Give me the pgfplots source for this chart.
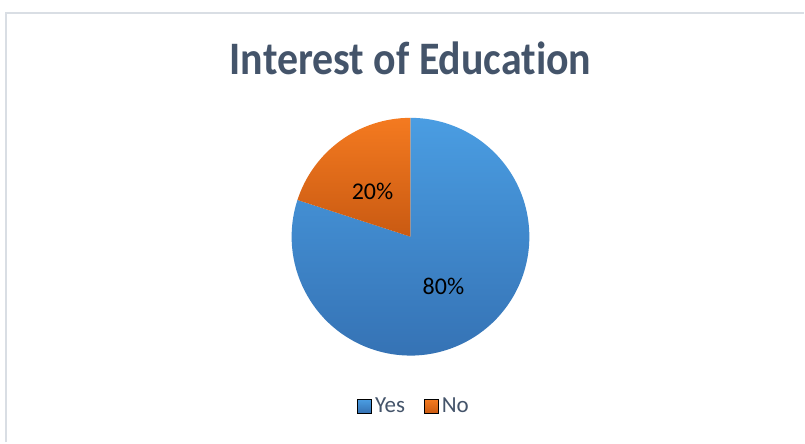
\documentclass[border=0pt]{standalone}
\usepackage{pgfplots}
\pgfplotsset{compat=1.18}
\usepackage{pgfplotstable}
\usepackage{fontspec}
\setmainfont{Carlito}[Ligatures=NoCommon]

\definecolor{titlegray}{HTML}{44546A}
\definecolor{framegray}{HTML}{D9DEE4}
\definecolor{bluetop}{HTML}{4A9DE2}
\definecolor{bluebot}{HTML}{3470B2}
\definecolor{orangetop}{HTML}{F47A20}
\definecolor{orangebot}{HTML}{C95A12}

% share of answers, in percent
\pgfplotstableread{
label value
Yes   80
No    20
}\piedata
\pgfplotstablegetelem{0}{value}\of\piedata \let\yesval\pgfplotsretval
\pgfplotstablegetelem{1}{value}\of\piedata \let\noval\pgfplotsretval
% "No" runs counter-clockwise from 12 o'clock, "Yes" takes the rest
\pgfmathsetmacro\noend{90+3.6*\noval}
\pgfmathsetmacro\yesend{\noend+3.6*\yesval}

\begin{document}
\begin{tikzpicture}
\begin{axis}[
    scale only axis,
    width=402.5pt, height=221.5pt,
    xmin=0, xmax=805, ymin=0, ymax=443,
    axis lines=none,
    clip=false,
    legend columns=2,
    legend style={at={(axis cs:415,36)}, anchor=center,
        draw=none, fill=none,
        font=\fontsize{11.5}{13}\selectfont, text=titlegray,
        nodes={inner xsep=1.5pt, inner ysep=0pt},
        /tikz/every even column/.append style={column sep=8pt}},
]
% background and frame
\fill[white] (axis cs:0,0) rectangle (axis cs:805,443);
\draw[framegray, line width=1pt] (axis cs:6,0) -- (axis cs:6,430) -- (axis cs:805,430);

% slices (1 axis unit = 0.5pt, radius 119 units)
\shade[top color=bluetop, bottom color=bluebot]
    (axis cs:411,206) -- ++(\noend:59.5pt) arc[start angle=\noend, end angle=\yesend, radius=59.5pt] -- cycle;
\shade[top color=orangetop, bottom color=orangebot]
    (axis cs:411,206) -- ++(90:59.5pt) arc[start angle=90, end angle=\noend, radius=59.5pt] -- cycle;

\node[font=\fontsize{12}{14}\selectfont] at (axis cs:373,251)
    {\pgfmathprintnumber[assume math mode=true]{\noval}\%};
\node[font=\fontsize{12}{14}\selectfont] at (axis cs:444,156)
    {\pgfmathprintnumber[assume math mode=true]{\yesval}\%};

\node[font=\bfseries\fontsize{23.3}{26}\selectfont, text=titlegray] at (axis cs:411,385)
    {\scalebox{0.9}[1]{Interest of Education}};

\addlegendimage{legend image code/.code={\shade[top color=bluetop, bottom color=bluebot] (0pt,-3.5pt) rectangle (7pt,3.5pt);}}
\addlegendentry{Yes}
\addlegendimage{legend image code/.code={\shade[top color=orangetop, bottom color=orangebot] (0pt,-3.5pt) rectangle (7pt,3.5pt);}}
\addlegendentry{No}
\end{axis}
\end{tikzpicture}
\end{document}
